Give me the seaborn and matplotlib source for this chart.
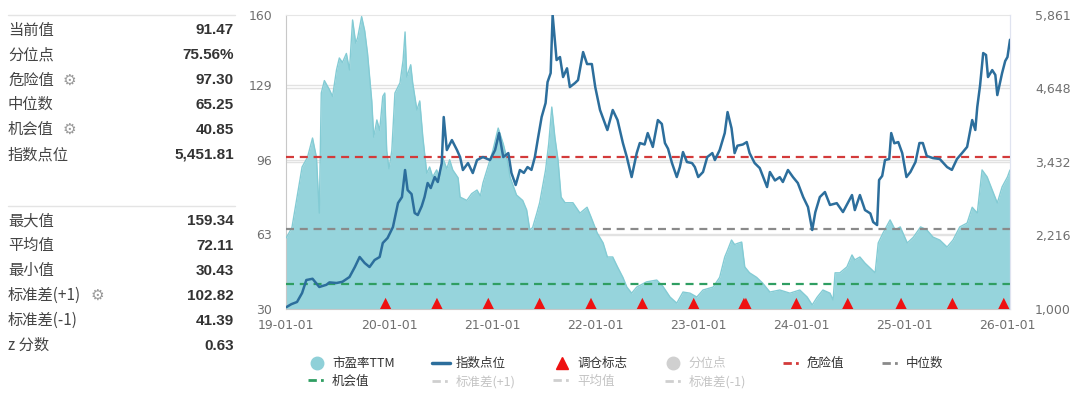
import matplotlib
matplotlib.use('Agg')
import matplotlib.pyplot as plt
import matplotlib.dates as mdates
from matplotlib.lines import Line2D
import pandas as pd
import seaborn as sns

# ---- data ----
pe_dates = [
    '2019-01-02', '2019-01-22', '2019-02-09', '2019-02-27', '2019-03-18', '2019-04-05', '2019-04-19',
    '2019-04-29', '2019-05-06', '2019-05-17', '2019-06-04', '2019-06-15', '2019-06-29', '2019-07-09',
    '2019-07-20', '2019-08-03', '2019-08-14', '2019-08-25', '2019-09-05', '2019-09-12', '2019-09-26',
    '2019-10-07', '2019-10-17', '2019-11-01', '2019-11-08', '2019-11-19', '2019-11-29', '2019-12-10',
    '2019-12-17', '2019-12-24', '2020-01-01', '2020-01-11', '2020-01-22', '2020-02-09', '2020-02-20',
    '2020-02-27', '2020-03-04', '2020-03-18', '2020-03-25', '2020-04-09', '2020-04-19', '2020-04-30',
    '2020-05-14', '2020-05-24', '2020-06-04', '2020-06-18', '2020-06-29', '2020-07-09', '2020-07-24',
    '2020-08-03', '2020-08-14', '2020-09-02', '2020-09-09', '2020-10-03', '2020-10-20', '2020-11-08',
    '2020-11-20', '2020-11-29', '2020-12-24', '2021-01-03', '2021-01-22', '2021-02-09', '2021-02-23',
    '2021-03-05', '2021-03-28', '2021-04-19', '2021-05-03', '2021-05-14', '2021-05-24', '2021-06-08',
    '2021-06-18', '2021-07-09', '2021-07-20', '2021-07-31', '2021-08-11', '2021-08-22', '2021-09-02',
    '2021-09-16', '2021-10-14', '2021-11-08', '2021-12-03', '2021-12-17', '2022-01-08', '2022-01-29',
    '2022-02-13', '2022-03-04', '2022-03-21', '2022-04-09', '2022-04-23', '2022-05-10', '2022-05-28',
    '2022-07-02', '2022-08-07', '2022-08-29', '2022-09-23', '2022-10-17', '2022-11-08', '2022-12-03',
    '2022-12-27', '2023-01-18', '2023-02-23', '2023-03-18', '2023-04-05', '2023-04-15', '2023-04-29',
    '2023-05-10', '2023-05-20', '2023-06-04', '2023-06-15', '2023-07-02', '2023-07-27', '2023-08-17',
    '2023-09-12', '2023-10-17', '2023-11-22', '2023-12-27', '2024-01-22', '2024-02-09', '2024-02-27',
    '2024-03-18', '2024-04-12', '2024-04-23', '2024-04-30', '2024-05-17', '2024-06-11', '2024-06-29',
    '2024-07-09', '2024-07-27', '2024-08-14', '2024-09-02', '2024-09-19', '2024-09-30', '2024-10-17',
    '2024-11-11', '2024-11-29', '2024-12-17', '2025-01-11', '2025-02-02', '2025-02-27', '2025-03-21',
    '2025-04-12', '2025-05-06', '2025-06-01', '2025-06-22', '2025-07-16', '2025-08-11', '2025-08-29',
    '2025-09-16', '2025-10-03', '2025-10-21', '2025-11-08', '2025-11-26', '2025-12-13', '2026-01-01',
    '2026-01-10',
]
pe_values = [
    61.5, 66.0, 79.5, 92.8, 97.0, 105.6, 97.0,
    72.4, 125.5, 131.0, 127.0, 124.0, 135.7, 141.0,
    139.0, 143.0, 135.7, 157.8, 147.6, 150.0, 159.3,
    153.0, 143.0, 122.0, 106.0, 113.6, 109.0, 124.0,
    125.5, 100.0, 92.0, 100.0, 125.5, 130.0, 140.0,
    152.5, 132.6, 138.0, 130.0, 118.0, 122.0, 106.0,
    90.0, 92.8, 88.4, 91.5, 88.0, 97.0, 92.0,
    96.0, 91.5, 88.0, 79.5, 78.0, 81.0, 82.6,
    80.0, 85.7, 96.0, 100.0, 110.0, 103.0, 96.0,
    88.4, 80.4, 78.0, 73.8, 65.0, 66.0, 72.4,
    77.0, 91.5, 103.0, 119.3, 106.0, 96.0, 79.5,
    77.0, 77.0, 72.4, 75.0, 70.7, 63.6, 59.2,
    53.0, 53.0, 48.6, 44.0, 39.7, 37.0, 39.7,
    42.0, 42.8, 40.0, 35.3, 32.6, 37.5, 37.0,
    35.3, 38.4, 39.7, 44.0, 53.0, 56.0, 60.5,
    58.5, 59.0, 59.6, 48.6, 46.0, 44.0, 41.5,
    37.5, 38.4, 37.0, 38.4, 35.3, 31.8, 35.3,
    38.4, 37.0, 34.0, 46.0, 46.0, 48.6, 53.9,
    51.7, 53.0, 50.3, 48.0, 46.0, 59.2, 63.6,
    69.4, 65.0, 66.3, 59.2, 61.8, 66.3, 65.0,
    61.8, 60.5, 57.4, 60.5, 66.3, 68.0, 75.0,
    72.4, 91.5, 88.4, 82.6, 76.9, 84.0, 88.4,
    91.47,
]

idx_dates = [
    '2019-01-02', '2019-01-20', '2019-02-09', '2019-02-27', '2019-03-14', '2019-04-05', '2019-04-29',
    '2019-05-24', '2019-06-04', '2019-06-29', '2019-07-20', '2019-08-14', '2019-09-02', '2019-09-19',
    '2019-10-07', '2019-10-24', '2019-11-11', '2019-11-29', '2019-12-10', '2019-12-27', '2020-01-15',
    '2020-02-02', '2020-02-16', '2020-02-27', '2020-03-07', '2020-03-21', '2020-04-01', '2020-04-12',
    '2020-04-26', '2020-05-06', '2020-05-17', '2020-05-28', '2020-06-11', '2020-06-22', '2020-07-06',
    '2020-07-13', '2020-07-24', '2020-08-11', '2020-08-29', '2020-09-09', '2020-09-19', '2020-10-07',
    '2020-10-24', '2020-11-08', '2020-11-29', '2020-12-24', '2021-01-11', '2021-01-25', '2021-02-09',
    '2021-02-27', '2021-03-10', '2021-03-25', '2021-04-09', '2021-04-23', '2021-05-06', '2021-05-20',
    '2021-06-01', '2021-06-11', '2021-06-25', '2021-07-09', '2021-07-16', '2021-07-27', '2021-08-03',
    '2021-08-17', '2021-08-29', '2021-09-09', '2021-09-23', '2021-10-03', '2021-10-21', '2021-11-01',
    '2021-11-19', '2021-12-03', '2021-12-20', '2022-01-01', '2022-01-18', '2022-02-13', '2022-03-04',
    '2022-03-21', '2022-04-09', '2022-04-23', '2022-05-10', '2022-05-28', '2022-06-08', '2022-06-25',
    '2022-07-06', '2022-07-24', '2022-08-11', '2022-08-25', '2022-09-05', '2022-09-16', '2022-09-30',
    '2022-10-17', '2022-10-28', '2022-11-08', '2022-11-22', '2022-12-10', '2022-12-20', '2023-01-01',
    '2023-01-18', '2023-02-02', '2023-02-20', '2023-03-01', '2023-03-18', '2023-04-05', '2023-04-15',
    '2023-04-29', '2023-05-10', '2023-05-20', '2023-06-08', '2023-06-22', '2023-07-02', '2023-07-20',
    '2023-08-07', '2023-09-02', '2023-09-12', '2023-09-30', '2023-10-17', '2023-10-28', '2023-11-15',
    '2023-12-03', '2023-12-20', '2024-01-08', '2024-01-25', '2024-02-09', '2024-02-20', '2024-03-07',
    '2024-03-25', '2024-04-12', '2024-05-06', '2024-05-28', '2024-06-29', '2024-07-09', '2024-07-27',
    '2024-08-14', '2024-09-02', '2024-09-12', '2024-09-26', '2024-10-03', '2024-10-14', '2024-10-24',
    '2024-11-08', '2024-11-15', '2024-11-26', '2024-12-10', '2024-12-24', '2025-01-08', '2025-01-22',
    '2025-02-09', '2025-02-23', '2025-03-07', '2025-03-21', '2025-04-12', '2025-05-06', '2025-06-01',
    '2025-06-18', '2025-07-06', '2025-07-24', '2025-08-11', '2025-08-29', '2025-09-09', '2025-09-16',
    '2025-09-26', '2025-10-07', '2025-10-17', '2025-10-24', '2025-11-08', '2025-11-19', '2025-11-26',
    '2025-12-13', '2025-12-24', '2026-01-01', '2026-01-10',
]
idx_values = [
    1030, 1080, 1116, 1264, 1479, 1500, 1364,
    1400, 1440, 1430, 1450, 1529, 1694, 1860,
    1760, 1694, 1810, 1860, 2091, 2174, 2355,
    2752, 2851, 3298, 2967, 2900, 2587, 2554,
    2700, 2851, 3083, 3000, 3182, 3100, 3413,
    4174, 3628, 3793, 3628, 3512, 3298, 3413,
    3248, 3463, 3512, 3463, 3628, 3909, 3512,
    3578, 3248, 3050, 3298, 3250, 3347, 3300,
    3512, 3793, 4174, 4405, 4752, 4901, 5861,
    5116, 5166, 4835, 4980, 4670, 4735, 4785,
    5248, 5050, 5050, 4670, 4290, 3959, 4290,
    4124, 3744, 3512, 3182, 3578, 3744, 3720,
    3909, 3680, 4124, 4060, 3744, 3650, 3413,
    3182, 3347, 3595, 3430, 3413, 3347, 3182,
    3265, 3512, 3578, 3463, 3628, 3909, 4256,
    3990, 3578, 3700, 3720, 3760, 3578, 3413,
    3330, 3017, 3265, 3125, 3180, 3100, 3298,
    3180, 3083, 2851, 2686, 2306, 2600, 2851,
    2934, 2720, 2750, 2603, 2884, 2636, 2884,
    2636, 2580, 2438, 2388, 3133, 3200, 3463,
    3480, 3909, 3740, 3760, 3578, 3182, 3265,
    3430, 3744, 3744, 3530, 3495, 3480, 3347,
    3300, 3480, 3578, 3680, 4124, 3960, 4339,
    4700, 5232, 5200, 4835, 4950, 4870, 4537,
    4901, 5100, 5166, 5452,
]

rebalance_dates = [
    '2019-12-20', '2020-06-19', '2020-12-18', '2021-06-18', '2021-12-17', '2022-06-17', '2022-12-16',
    '2023-06-12', '2023-06-19', '2023-12-15', '2024-06-14', '2024-12-20', '2025-06-20', '2025-12-19',
]

danger_value = 97.30
median_value = 65.25
chance_value = 40.85

left_ticks = [30, 63, 96, 129, 160]
right_ticks = [1000, 2216, 3432, 4648, 5861]
x_start, x_end = '2019-01-01', '2026-01-10'

top_labels = ['当前值', '分位点', '危险值', '中位数', '机会值', '指数点位']
top_values = ['91.47', '75.56%', '97.30', '65.25', '40.85', '5,451.81']
top_gear = [False, False, True, False, True, False]
bottom_labels = ['最大值', '平均值', '最小值', '标准差(+1)', '标准差(-1)', 'z 分数']
bottom_values = ['159.34', '72.11', '30.43', '102.82', '41.39', '0.63']
bottom_gear = [False, False, False, True, False, False]

legend_labels = ['市盈率TTM', '指数点位', '调仓标志', '分位点', '危险值', '中位数',
                 '机会值', '标准差(+1)', '平均值', '标准差(-1)']
legend_active = [True, True, True, False, True, True, True, False, False, False]

# ---- styling ----
PE_FILL = '#96d4dc'
PE_EDGE = '#83cbd4'
IDX_COLOR = '#2c6e9c'
RED = '#d33a3a'
GREY = '#8a8a8a'
GREEN = '#2f9e62'
FAINT = '#cfcfcf'

sns.set_style('white')
plt.rcParams['font.family'] = ['Noto Sans CJK SC', 'DejaVu Sans']

W, H = 1080, 393
fig = plt.figure(figsize=(W / 100, H / 100), dpi=100)


def fx(x):
    return x / W


def fy(y):
    return 1 - y / H


ax = fig.add_axes([fx(286), fy(309), fx(1010 - 286), (309 - 15) / H])

pe = pd.DataFrame({'date': pd.to_datetime(pe_dates), 'value': pe_values})
idx = pd.DataFrame({'date': pd.to_datetime(idx_dates), 'value': idx_values})
reb = pd.DataFrame({'date': pd.to_datetime(rebalance_dates), 'value': left_ticks[0]})

ax.fill_between(pe['date'], left_ticks[0], pe['value'], color=PE_FILL, lw=0, zorder=2)
sns.lineplot(data=pe, x='date', y='value', ax=ax, color=PE_EDGE, lw=1.0, zorder=3)

# grid lines of both axes (right-axis ticks mapped onto the left scale)
for t in left_ticks[1:-1]:
    ax.axhline(t, color='#e2e2e2', lw=1, zorder=1)
lo, hi = left_ticks[0], left_ticks[-1]
for t in right_ticks[1:-1]:
    ax.axhline(lo + (t - right_ticks[0]) / (right_ticks[-1] - right_ticks[0]) * (hi - lo),
               color='#e2e2e2', lw=1, zorder=1)

dash = (0, (3.6, 2.6))
ax.axhline(danger_value, color=RED, lw=1.6, ls=dash, zorder=4)
ax.axhline(median_value, color=GREY, lw=1.6, ls=dash, zorder=4)
ax.axhline(chance_value, color=GREEN, lw=1.6, ls=dash, zorder=4)

tri = [(-1, 0), (1, 0), (0, 2)]
sns.scatterplot(data=reb, x='date', y='value', ax=ax, marker=tri, s=260, color='#ee1111',
                edgecolor='none', zorder=6, clip_on=False, legend=False)

ax.set_xlim(pd.Timestamp(x_start), pd.Timestamp(x_end))
ax.set_ylim(lo, hi)
ax.set_yticks(left_ticks)
ax.set_yticklabels([str(t) for t in left_ticks], fontfamily='DejaVu Sans')
ax.xaxis.set_major_locator(mdates.YearLocator())
ax.xaxis.set_major_formatter(mdates.DateFormatter('%y-%m-%d'))
ax.tick_params(axis='x', length=5, color='#bbbbbb', labelcolor='#6f6f6f', labelsize=9, pad=2)
ax.tick_params(axis='y', length=0, labelcolor='#6f6f6f', labelsize=9, pad=10)
for lab in ax.get_xticklabels():
    lab.set_fontfamily('DejaVu Sans')
ax.set_xlabel('')
ax.set_ylabel('')
for side in ['left', 'bottom']:
    ax.spines[side].set_color('#c8c8c8')
ax.spines['top'].set_color('#e6e6e6')
ax.spines['right'].set_color('#dfe3f0')

ax2 = ax.twinx()
sns.lineplot(data=idx, x='date', y='value', ax=ax2, color=IDX_COLOR, lw=1.8, zorder=5)
ax2.set_ylim(right_ticks[0], right_ticks[-1])
ax2.set_yticks(right_ticks)
ax2.set_yticklabels([f'{t:,}' for t in right_ticks], fontfamily='DejaVu Sans')
ax2.tick_params(axis='y', length=0, labelcolor='#6f6f6f', labelsize=9, pad=18)
ax2.set_ylabel('')
ax2.set_xlabel('')
for side in ['left', 'top', 'bottom']:
    ax2.spines[side].set_visible(False)
ax2.spines['right'].set_color('#dfe3f0')

# ---- left statistics panel ----
renderer = fig.canvas.get_renderer()


def draw_block(labels, values, gears, y0, line_y):
    fig.add_artist(Line2D([fx(8), fx(235)], [fy(line_y), fy(line_y)], color='#e4e4e4', lw=1))
    for i, (lab, val, gear) in enumerate(zip(labels, values, gears)):
        y = fy(y0 + 24.9 * i)
        t = fig.text(fx(8), y, lab, fontsize=11, color='#444444', va='center', ha='left')
        fig.text(fx(234), y, val, fontsize=11, color='#333333', va='center', ha='right',
                 fontweight='bold', fontfamily=['Liberation Sans', 'DejaVu Sans'])
        if gear:
            bb = t.get_window_extent(renderer=renderer)
            fig.text(fx(bb.x1 + 9), y, '⚙', fontsize=11, color='#9a9a9a', va='center',
                     ha='left', fontfamily='DejaVu Sans')


draw_block(top_labels, top_values, top_gear, 30, 15)
draw_block(bottom_labels, bottom_values, bottom_gear, 221, 206)

# ---- legend ----
dd = (0, (3, 1.5, 1, 1.5))
handles = [
    Line2D([], [], marker='o', ls='', color='#8fd0d8', ms=9),
    Line2D([], [], color=IDX_COLOR, lw=2.5),
    Line2D([], [], marker='^', ls='', color='#ee1111', ms=9),
    Line2D([], [], marker='o', ls='', color='#d0d0d0', ms=9),
    Line2D([], [], color=RED, lw=2, ls=dd),
    Line2D([], [], color=GREY, lw=2, ls=dd),
    Line2D([], [], color=GREEN, lw=2, ls=dd),
    Line2D([], [], color=FAINT, lw=2, ls=dd),
    Line2D([], [], color=FAINT, lw=2, ls=dd),
    Line2D([], [], color=FAINT, lw=2, ls=dd),
]
# matplotlib fills legend columns first; reorder so items read row by row
order = [0, 6, 1, 7, 2, 8, 3, 9, 4, 5]
leg = fig.legend([handles[i] for i in order], [legend_labels[i] for i in order],
                 loc='upper left', bbox_to_anchor=(fx(302), fy(351)), ncol=6, frameon=False,
                 fontsize=9, handlelength=1.4, handletextpad=0.5, columnspacing=3.0,
                 labelspacing=0.35, borderpad=0)
for text, i in zip(leg.get_texts(), order):
    text.set_color('#333333' if legend_active[i] else '#c4c4c4')

fig.savefig('out.png', dpi=100)
